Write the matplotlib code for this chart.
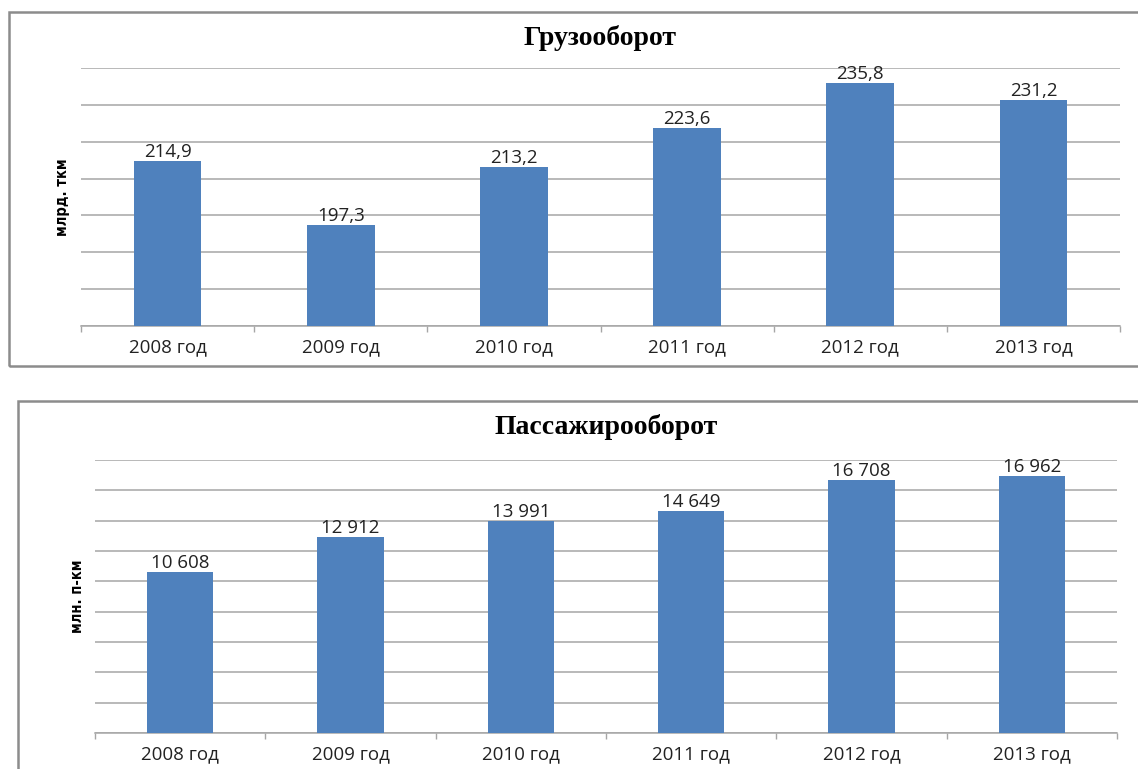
import numpy as np
import matplotlib.pyplot as plt
from matplotlib.patches import Rectangle

years = ["2008 год", "2009 год", "2010 год", "2011 год", "2012 год", "2013 год"]
cargo = [214.9, 197.3, 213.2, 223.6, 235.8, 231.2]
cargo_labels = ["214,9", "197,3", "213,2", "223,6", "235,8", "231,2"]
passenger = [10608, 12912, 13991, 14649, 16708, 16962]
passenger_labels = ["10 608", "12 912", "13 991", "14 649", "16 708", "16 962"]

BAR = "#4F81BD"
GRID = "#a6a6a6"
FRAME = "#8c8c8c"
W, H = 1138, 769

fig = plt.figure(figsize=(W / 100, H / 100), dpi=100)


def px(x0, y0, x1, y1):
    # pixel box (top-left origin) -> figure fraction rect
    return [x0 / W, 1 - y1 / H, (x1 - x0) / W, (y1 - y0) / H]


def draw(ax, vals, labels, ymin, ymax, step, ylabel, title, title_y, ylabel_x):
    x = np.arange(len(vals))
    ax.bar(x, np.array(vals) - ymin, bottom=ymin, width=0.39, color=BAR, zorder=3)
    ax.set_xlim(-0.5, len(vals) - 0.5)
    ax.set_ylim(ymin, ymax)
    ax.set_yticks(np.arange(ymin, ymax + step / 2, step))
    ax.yaxis.grid(True, color=GRID, linewidth=1.1, zorder=0)
    ax.tick_params(axis="y", length=0, labelleft=False)
    ax.set_xticks(x)
    ax.set_xticklabels(years, fontsize=13.5, family="Open Sans", color="#222222")
    ax.set_xticks(np.arange(-0.5, len(vals)), minor=True)
    ax.tick_params(axis="x", which="major", length=0, pad=9)
    ax.tick_params(axis="x", which="minor", length=4, color=GRID, width=1)
    for s in ["top", "right", "left"]:
        ax.spines[s].set_visible(False)
    ax.spines["bottom"].set_color(GRID)
    ax.spines["bottom"].set_linewidth(1.1)
    for xi, v, t in zip(x, vals, labels):
        ax.annotate(t, (xi, v), xytext=(0, 0), textcoords="offset points",
                    ha="center", va="bottom", fontsize=13.5, family="Open Sans",
                    color="#222222", zorder=4)
    pos = ax.get_position()
    fig.text(ylabel_x / W, pos.y0 + pos.height / 2, ylabel, rotation=90,
             ha="center", va="center", fontsize=10.5, fontweight="bold",
             family="DejaVu Sans", fontstretch="condensed")
    fig.text(pos.x0 + pos.width / 2, 1 - title_y / H, title, ha="center", va="center",
             fontsize=20, fontweight="bold", family="Liberation Serif")


# frames around each chart
fig.patches.append(Rectangle((9 / W, 1 - 366 / H), 1.2, 354 / H, transform=fig.transFigure,
                             fill=False, edgecolor=FRAME, linewidth=1.8))
fig.patches.append(Rectangle((18 / W, -0.1), 1.2, 1 - 401 / H + 0.1, transform=fig.transFigure,
                             fill=False, edgecolor=FRAME, linewidth=1.8))

ax1 = fig.add_axes(px(81, 68, 1120, 326))
draw(ax1, cargo, cargo_labels, 170, 240, 10, "млрд. ткм", "Грузооборот", 38, 63)

ax2 = fig.add_axes(px(95, 460, 1117, 733))
draw(ax2, passenger, passenger_labels, 0, 18000, 2000, "млн. п-км", "Пассажирооборот", 427, 77)

fig.savefig("out.png", dpi=100)
